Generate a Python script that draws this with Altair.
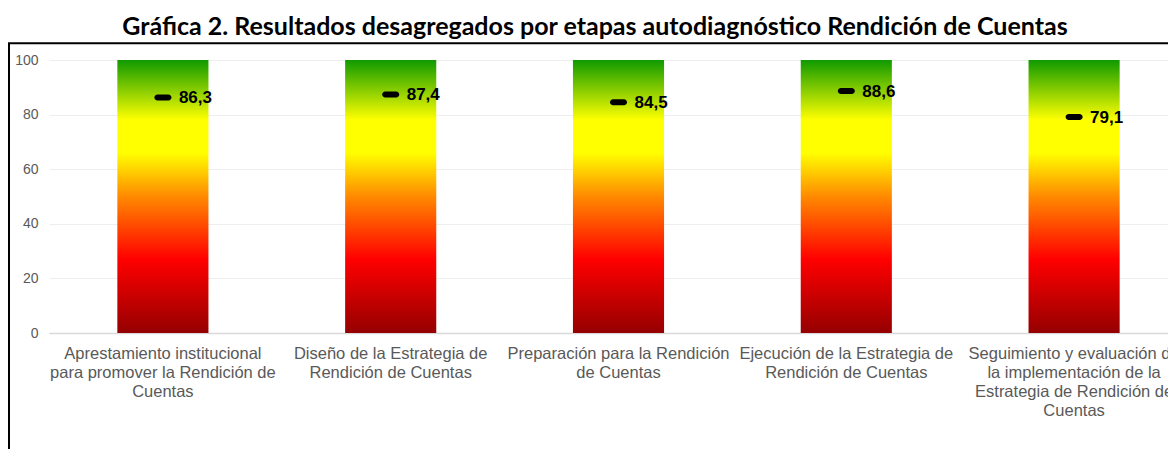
import altair as alt
import pandas as pd

# ---- data ----
categories = [
    "Aprestamiento institucional|para promover la Rendición de|Cuentas",
    "Diseño de la Estrategia de|Rendición de Cuentas",
    "Preparación para la Rendición|de Cuentas",
    "Ejecución de la Estrategia de|Rendición de Cuentas",
    "Seguimiento y evaluación de|la implementación de la|Estrategia de Rendición de|Cuentas",
]
scores = [86.3, 87.4, 84.5, 88.6, 79.1]
scale_top = [100, 100, 100, 100, 100]
score_labels = ["86,3", "87,4", "84,5", "88,6", "79,1"]
y_ticks = [0, 20, 40, 60, 80, 100]

df = pd.DataFrame({"cat": categories, "score": scores, "top": scale_top, "lbl": score_labels})

W, H = 1119, 273       # visible plot area
BAND_RANGE = 1139      # category axis runs a little past the visible edge
FONT = "Liberation Sans"
BOTTOM = 116

gradient = alt.Gradient(
    gradient="linear",
    x1=0, y1=1, x2=0, y2=0,
    stops=[
        alt.GradientStop(color="#950000", offset=0.0),
        alt.GradientStop(color="#ff0000", offset=0.27),
        alt.GradientStop(color="#ff8a00", offset=0.5),
        alt.GradientStop(color="#ffff00", offset=0.66),
        alt.GradientStop(color="#ffff00", offset=0.78),
        alt.GradientStop(color="#109a00", offset=1.0),
    ],
)

x_scale = alt.Scale(paddingInner=0.6, paddingOuter=0.3, range=[0, BAND_RANGE])

x_enc = alt.X(
    "cat:N",
    sort=categories,
    title=None,
    scale=x_scale,
    axis=alt.Axis(
        labelAngle=0,
        labelExpr="split(datum.label, '|')",
        labelFont=FONT,
        labelFontSize=16.5,
        labelColor="#595959",
        labelPadding=12,
        labelLineHeight=19,
        labelLimit=400,
        labelOverlap=False,
        labelFlush=False,
        ticks=False,
        domainColor="#d9d9d9",
        domainWidth=1.5,
    ),
)

y_scale = alt.Scale(domain=[0, 100], nice=False)

bars = alt.Chart(df).mark_bar(color=gradient).encode(
    x=x_enc,
    y=alt.Y(
        "top:Q",
        scale=y_scale,
        title=None,
        axis=alt.Axis(
            values=y_ticks,
            labelFont=FONT,
            labelFontSize=14,
            labelColor="#595959",
            labelPadding=11,
            ticks=False,
            domain=False,
            gridColor="#eeeeee",
            gridWidth=1,
        ),
    ),
)

marks = alt.Chart(df).mark_tick(
    color="black", opacity=1, thickness=6, size=17, cornerRadius=3
).encode(x=alt.X("cat:N", sort=categories, scale=x_scale), y=alt.Y("score:Q", scale=y_scale))

labels = alt.Chart(df).mark_text(
    align="left", baseline="middle", dx=16, dy=1,
    font=FONT, fontSize=17, fontWeight="bold", color="black"
).encode(x=alt.X("cat:N", sort=categories, scale=x_scale), y=alt.Y("score:Q", scale=y_scale), text="lbl:N")

frame_df = pd.DataFrame({"k": [0]})
frame_left = alt.Chart(frame_df).mark_rule(color="black", strokeWidth=2).encode(
    x=alt.value(-40), y=alt.value(-16.7), y2=alt.value(H + BOTTOM)
)
frame_top = alt.Chart(frame_df).mark_rule(color="black", strokeWidth=2).encode(
    x=alt.value(-41), x2=alt.value(W + 20), y=alt.value(-16.7)
)

chart = (
    alt.layer(bars, marks, labels, frame_left, frame_top)
    .properties(
        width=W,
        height=H,
        title=alt.TitleParams(
            "Gráfica 2. Resultados desagregados por etapas autodiagnóstico Rendición de Cuentas",
            font="Lato",
            fontSize=25,
            fontWeight="bold",
            color="black",
            anchor="middle",
            dx=-13.5,
            offset=2,
        ),
        padding={"left": 41, "top": 52, "right": 0, "bottom": BOTTOM},
        autosize=alt.AutoSizeParams(type="none"),
    )
    .configure_view(stroke=None)
)

chart.save("out.html", embed_options={"renderer": "svg", "actions": False})
